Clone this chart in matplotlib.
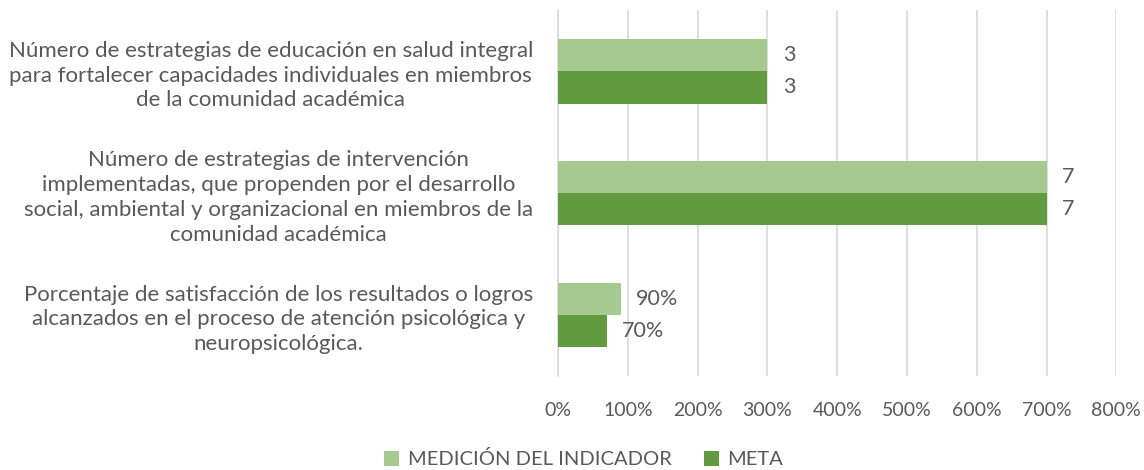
import matplotlib.pyplot as plt
import numpy as np
from matplotlib.ticker import PercentFormatter

categorias = [
    "Número de estrategias de educación en salud integral\npara fortalecer capacidades individuales en miembros\nde la comunidad académica",
    "Número de estrategias de intervención\nimplementadas, que propenden por el desarrollo\nsocial, ambiental y organizacional en miembros de la\ncomunidad académica",
    "Porcentaje de satisfacción de los resultados o logros\nalcanzados en el proceso de atención psicológica y\nneuropsicológica.",
]
medicion = [3, 7, 0.9]
meta = [3, 7, 0.7]
etq_medicion = ["3", "7", "90%"]
etq_meta = ["3", "7", "70%"]

col_claro = "#A6C891"
col_oscuro = "#619A3F"
gris = "#595959"

plt.rcParams['font.family'] = ['Lato', 'DejaVu Sans']

fig = plt.figure(figsize=(11.44, 4.70), dpi=100)
ax = fig.add_axes([0.4878, 0.20, 0.488, 0.778])

y = np.arange(len(categorias))
h = 0.265
ax.barh(y - h / 2, medicion, height=h, color=col_claro, label="MEDICIÓN DEL INDICADOR", zorder=3)
ax.barh(y + h / 2, meta, height=h, color=col_oscuro, label="META", zorder=3)

for i in range(len(categorias)):
    ax.annotate(etq_medicion[i], (medicion[i], y[i] - h / 2), xytext=(11, 0),
                textcoords="offset points", va="center", ha="left", fontsize=15.5, color=gris)
    ax.annotate(etq_meta[i], (meta[i], y[i] + h / 2), xytext=(11, 0),
                textcoords="offset points", va="center", ha="left", fontsize=15.5, color=gris)

ax.set_xlim(0, 8)
ax.set_ylim(2.5, -0.5)
ax.set_xticks(np.arange(0, 9))
ax.xaxis.set_major_formatter(PercentFormatter(1.0, decimals=0))
ax.set_yticks(y)
ax.set_yticklabels(categorias, multialignment="center", fontsize=16, linespacing=1.3)
ax.tick_params(axis="both", length=0, colors=gris)
ax.tick_params(axis="x", pad=19, labelsize=14)
ax.tick_params(axis="y", pad=18)
ax.grid(axis="x", color="#D9D9D9", linewidth=1.2, zorder=0)
for s in ["top", "right", "bottom"]:
    ax.spines[s].set_visible(False)
ax.spines["left"].set_color("#D9D9D9")
ax.spines["left"].set_linewidth(1.2)

fig.legend(loc="lower center", bbox_to_anchor=(0.51, -0.035), ncol=2, frameon=False,
           fontsize=14.5, labelcolor=gris, handlelength=0.75, handleheight=0.75,
           handletextpad=0.4, columnspacing=1.6)

fig.savefig("out.png", dpi=100)
